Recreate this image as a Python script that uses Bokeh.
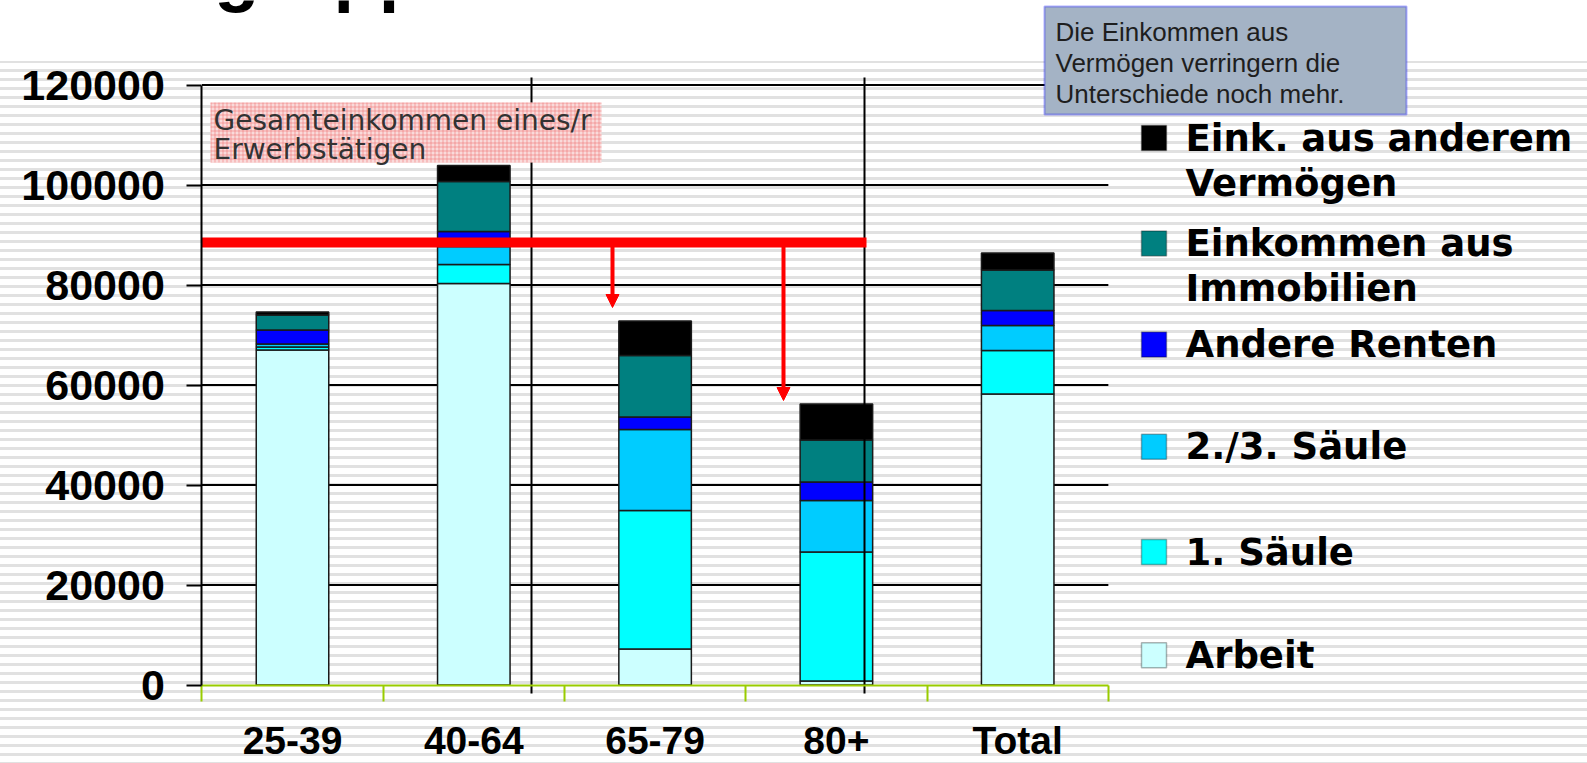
from bokeh.plotting import figure
from bokeh.models import (ColumnDataSource, LinearAxis, FixedTicker, Range1d, Label,
                          BoxAnnotation, Arrow, NormalHead, BasicTickFormatter)
from bokeh.embed import file_html
from bokeh.resources import INLINE

# ---------------- data ----------------
categories = ["25-39", "40-64", "65-79", "80+", "Total"]
arbeit = [67000, 80300, 7200, 800, 58200]
saeule_1 = [600, 3800, 27700, 25800, 8700]
saeule_23 = [600, 3600, 16200, 10300, 5000]
andere_renten = [2800, 3000, 2500, 3700, 3000]
immobilien = [3000, 10000, 12300, 8400, 8100]
anderes_vermoegen = [600, 3200, 6900, 7200, 3400]

series_keys = ["arbeit", "s1", "s23", "renten", "immo", "verm"]
series_colors = ["#ccffff", "#00ffff", "#00ccff", "#0000ff", "#008080", "#000000"]
legend_texts = [["Eink. aus anderem", "Vermögen"], ["Einkommen aus", "Immobilien"],
                ["Andere Renten"], ["2./3. Säule"], ["1. Säule"], ["Arbeit"]]
y_ticks = [0, 20000, 40000, 60000, 80000, 100000, 120000]
reference_income = 88500          # red line: Gesamteinkommen eines/r Erwerbstätigen
arrow_targets = [75500, 56900]
box_note = ["Gesamteinkommen eines/r", "Erwerbstätigen"]
side_note = ["Die Einkommen aus", "Vermögen verringern die", "Unterschiede noch mehr."]
slide_title = "Altersgruppen"

# ---------------- layout (pixels in the figure) ----------------
W, H = 1587, 763
X0_PX, BAND_PX = 292.0, 181.3      # centre of first category, width of a category band
Y0_PX, UNITS_PER_PX = 684.5, 200.0  # pixel of value 0, value units per pixel


def dx(px):
    return (px - X0_PX) / BAND_PX


def dy(py):
    return (Y0_PX - py) * UNITS_PER_PX


n = len(categories)
p = figure(width=W, height=H,
           x_range=Range1d(dx(0), dx(W)), y_range=Range1d(dy(H), dy(0)),
           x_axis_type=None, y_axis_type=None, toolbar_location=None,
           output_backend="svg", min_border=0, outline_line_color=None,
           border_fill_color=None, background_fill_color=None,
           styles={"background": "linear-gradient(#ffffff 0px, #ffffff 61px, rgba(255,255,255,0) 61px), "
                                 "repeating-linear-gradient(#ffffff 0px, #ffffff 6px, #e1e1e1 6px, #e1e1e1 9px)"})

# slide title, mostly above the visible area (only descenders show, as in the slide)
p.add_layout(Label(x=dx(4), y=dy(-28.5), text=slide_title, text_font="Liberation Sans",
                   text_font_style="bold", text_font_size="74px", text_color="black",
                   text_baseline="middle"))

# grid lines
grid_src = ColumnDataSource(dict(y=y_ticks[1:], x0=[-0.5] * (len(y_ticks) - 1),
                                 x1=[n - 0.5] * (len(y_ticks) - 1)))
p.segment(x0="x0", y0="y", x1="x1", y1="y", source=grid_src, line_color="black", line_width=2)

# stacked bars
src = ColumnDataSource(dict(x=list(range(n)), arbeit=arbeit, s1=saeule_1, s23=saeule_23,
                            renten=andere_renten, immo=immobilien, verm=anderes_vermoegen))
p.vbar_stack(series_keys, x="x", width=0.4, source=src, fill_color=series_colors,
             line_color="#1a1a1a", line_width=1.5)

# vertical slide lines
for vx in (531, 864):
    p.segment(x0=dx(vx), y0=dy(77), x1=dx(vx), y1=dy(693), line_color="black", line_width=2)

# red reference line and arrows
p.segment(x0=-0.5, y0=reference_income, x1=dx(866), y1=reference_income,
          line_color="#ff0000", line_width=10, line_cap="butt")
for ax_px, target in zip((612, 783), arrow_targets):
    p.add_layout(Arrow(x_start=dx(ax_px), y_start=reference_income, x_end=dx(ax_px), y_end=target,
                       line_color="#ff0000", line_width=4,
                       end=NormalHead(size=13, fill_color="#ff0000", line_color="#ff0000")))

# pink note box
p.add_layout(BoxAnnotation(left=dx(210), right=dx(601), top=dy(102), bottom=dy(162),
                           fill_color="#f9dada", fill_alpha=1.0, line_color=None,
                           hatch_pattern="cross", hatch_color="#ef6f6f", hatch_scale=4,
                           hatch_weight=1, hatch_alpha=0.55))
for i, t in enumerate(box_note):
    p.add_layout(Label(x=dx(213), y=dy(119.5 + 29.5 * i), text=t, text_font="DejaVu Sans",
                       text_font_size="28px", text_color="#333333", text_baseline="middle"))

# side note box
p.add_layout(BoxAnnotation(left=dx(1044), right=dx(1406), top=dy(6), bottom=dy(114),
                           fill_color="#a4b3c5", fill_alpha=1.0, line_color="#0000ff",
                           line_width=2))
for i, t in enumerate(side_note):
    p.add_layout(Label(x=dx(1055), y=dy(31 + 31 * i), text=t, text_font="Liberation Sans",
                       text_font_size="26px", text_color="#1e1e1e", text_baseline="middle"))
p.segment(x0=dx(1177), y0=dy(52), x1=dx(1177), y1=dy(77), line_color="#8a6d4a", line_width=1)

# legend (top item = top of stack)
row_px = [137.6, 242.9, 344.1, 446.3, 551.6, 654.8]
for i, (lines, col) in enumerate(zip(legend_texts, series_colors[::-1])):
    r = row_px[i]
    p.add_layout(BoxAnnotation(left=dx(1141), right=dx(1166), top=dy(r - 12.5), bottom=dy(r + 12.5),
                               fill_color=col, fill_alpha=1.0, line_color="black", line_width=1.5))
    for j, t in enumerate(lines):
        p.add_layout(Label(x=dx(1185), y=dy(r + 45 * j), text=t, text_font="DejaVu Sans",
                           text_font_style="bold", text_font_size="37px", text_color="black",
                           text_baseline="middle"))

# axes
yaxis = LinearAxis(fixed_location=-0.5, bounds=(y_ticks[0], y_ticks[-1]),
                   ticker=FixedTicker(ticks=y_ticks, minor_ticks=[]),
                   formatter=BasicTickFormatter(use_scientific=False),
                   axis_line_color="black", axis_line_width=2,
                   major_tick_out=15, major_tick_in=0, major_tick_line_color="black",
                   major_tick_line_width=2, minor_tick_out=0, minor_tick_in=0,
                   major_label_text_font="Liberation Sans", major_label_text_font_style="bold",
                   major_label_text_font_size="43px", major_label_text_color="black",
                   major_label_standoff=22)
p.add_layout(yaxis, "left")

xaxis = LinearAxis(fixed_location=0, bounds=(-0.5, n - 0.5),
                   ticker=FixedTicker(ticks=list(range(n)), minor_ticks=[i - 0.5 for i in range(n + 1)]),
                   major_label_overrides={i: c for i, c in enumerate(categories)},
                   axis_line_color="#99cc00", axis_line_width=2,
                   major_tick_out=0, major_tick_in=0,
                   minor_tick_out=16, minor_tick_in=0, minor_tick_line_color="#99cc00",
                   minor_tick_line_width=2,
                   major_label_text_font="Liberation Sans", major_label_text_font_style="bold",
                   major_label_text_font_size="39px", major_label_text_color="black",
                   major_label_standoff=18)
p.add_layout(xaxis, "below")

open("out.html", "w").write(file_html(p, INLINE))
